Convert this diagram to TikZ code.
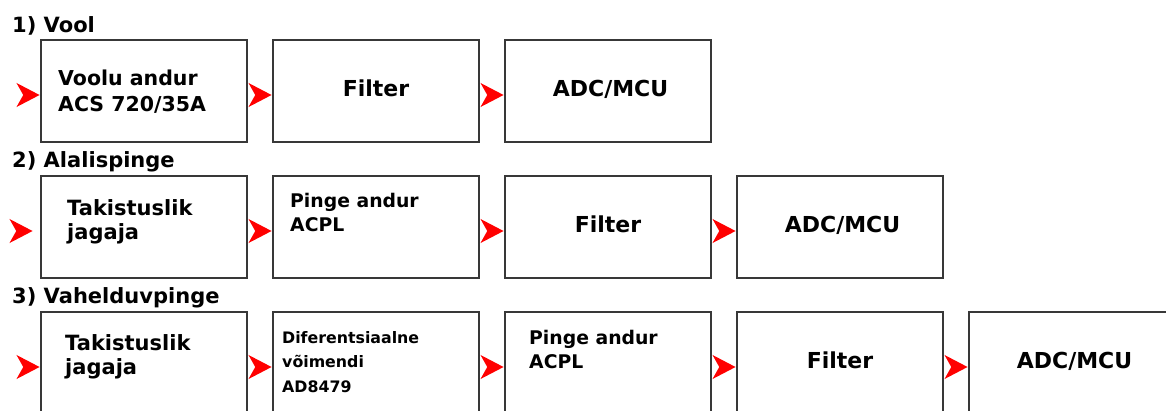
\documentclass[tikz,border=0pt]{standalone}
\usepackage{fontspec}
\setmainfont{DejaVu Sans}
\usepackage{tikz}
\usetikzlibrary{positioning}
\usetikzlibrary{arrows.meta}

\begin{document}
\begin{tikzpicture}[
        box/.style = {draw=black!78, line width=2pt, fill=white, minimum width=206pt, minimum height=102pt, inner sep=0pt},
        head/.style = {inner sep=0pt, font=\bfseries\fontsize{21}{24}\selectfont},
        big/.style = {inner sep=0pt, font=\bfseries\fontsize{22}{26}\selectfont},
        txt/.style = {inner sep=0pt, align=left, font=\bfseries\fontsize{20.5}{26}\selectfont},
        tak/.style = {inner sep=0pt, align=left, font=\bfseries\fontsize{21}{24}\selectfont},
        mid/.style = {inner sep=0pt, align=left, font=\bfseries\fontsize{18.8}{24.5}\selectfont},
        small/.style = {inner sep=0pt, align=left, font=\bfseries\fontsize{15.8}{24.5}\selectfont},
        arr/.style = {draw=red, draw opacity=0, -{Stealth[length=24pt, width=25pt, inset=7pt, fill=red]}}
        ]
        \useasboundingbox (0pt,0pt) rectangle (1166pt,-410pt);
        \clip (0pt,0pt) rectangle (1166pt,-410pt);
        % 1) Vool
        \node[box, anchor=north west] (v1) at (40pt,-39pt) {};
        \node[box] (v2) [right=24pt of v1] {};
        \node[box] (v3) [right=24pt of v2] {};
        \node[head, anchor=base west] (r1) at ([shift={(-28pt,7pt)}]v1.north west) {1) Vool};
        \node[txt, anchor=base west] (v1t) at ([shift={(18pt,-72pt)}]v1.north west) {Voolu andur\\ACS 720/35A};
        \node[big, anchor=base] (v2t) at ([yshift=-57pt]v2.north) {Filter};
        \node[big, anchor=base] (v3t) at ([shift={(2.5pt,-57pt)}]v3.north) {ADC/MCU};
        \coordinate (v0) at ([shift={(-23pt,-4pt)}]v1.west);
        \draw[arr] (v0) -- ([yshift=-4pt]v1.west);
        \draw[arr] ([yshift=-4pt]v1.east) -- ([yshift=-4pt]v2.west);
        \draw[arr] ([yshift=-4pt]v2.east) -- ([yshift=-4pt]v3.west);
        % 2) Alalispinge
        \node[box] (a1) [below=32pt of v1] {};
        \node[box] (a2) [right=24pt of a1] {};
        \node[box] (a3) [right=24pt of a2] {};
        \node[box] (a4) [right=24pt of a3] {};
        \node[head, anchor=base west] (r2) at ([shift={(-28pt,7.5pt)}]a1.north west) {2) Alalispinge};
        \node[tak, anchor=base west] (a1t) at ([shift={(27pt,-64pt)}]a1.north west) {Takistuslik\\jagaja};
        \node[mid, anchor=base west] (a2t) at ([shift={(18pt,-56.5pt)}]a2.north west) {Pinge andur\\ACPL};
        \node[big, anchor=base] (a3t) at ([yshift=-57pt]a3.north) {Filter};
        \node[big, anchor=base] (a4t) at ([shift={(2.5pt,-57pt)}]a4.north) {ADC/MCU};
        \coordinate (a0) at ([shift={(-32pt,-4pt)}]a1.west);
        \draw[arr] (a0) -- ([shift={(-7pt,-4pt)}]a1.west);
        \draw[arr] ([yshift=-4pt]a1.east) -- ([yshift=-4pt]a2.west);
        \draw[arr] ([yshift=-4pt]a2.east) -- ([yshift=-4pt]a3.west);
        \draw[arr] ([yshift=-4pt]a3.east) -- ([yshift=-4pt]a4.west);
        % 3) Vahelduvpinge
        \node[box] (h1) [below=32pt of a1] {};
        \node[box] (h2) [right=24pt of h1] {};
        \node[box] (h3) [right=24pt of h2] {};
        \node[box] (h4) [right=24pt of h3] {};
        \node[box] (h5) [right=24pt of h4] {};
        \node[head, anchor=base west] (r3) at ([shift={(-28pt,7.5pt)}]h1.north west) {3) Vahelduvpinge};
        \node[tak, anchor=base west] (h1t) at ([shift={(25pt,-63pt)}]h1.north west) {Takistuslik\\jagaja};
        \node[small, anchor=base west] (h2t) at ([shift={(10pt,-81pt)}]h2.north west) {Diferentsiaalne\\võimendi\\AD8479};
        \node[mid, anchor=base west] (h3t) at ([shift={(25pt,-57.5pt)}]h3.north west) {Pinge andur\\ACPL};
        \node[big, anchor=base] (h4t) at ([yshift=-57pt]h4.north) {Filter};
        \node[big, anchor=base] (h5t) at ([shift={(2.5pt,-57pt)}]h5.north) {ADC/MCU};
        \coordinate (h0) at ([shift={(-23pt,-4pt)}]h1.west);
        \draw[arr] (h0) -- ([yshift=-4pt]h1.west);
        \draw[arr] ([yshift=-4pt]h1.east) -- ([yshift=-4pt]h2.west);
        \draw[arr] ([yshift=-4pt]h2.east) -- ([yshift=-4pt]h3.west);
        \draw[arr] ([yshift=-4pt]h3.east) -- ([yshift=-4pt]h4.west);
        \draw[arr] ([yshift=-4pt]h4.east) -- ([yshift=-4pt]h5.west);
\end{tikzpicture}
\end{document}
